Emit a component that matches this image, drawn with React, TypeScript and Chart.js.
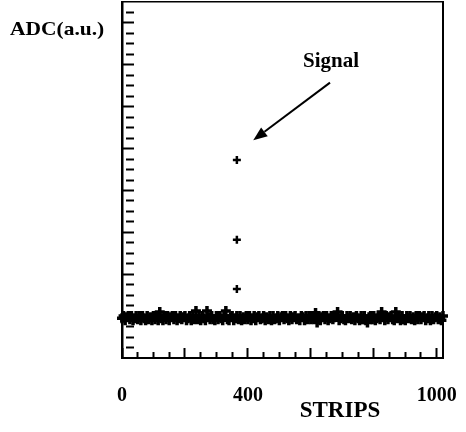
import { useEffect, useRef } from 'react';
import { Chart, registerables } from 'chart.js';

Chart.register(...registerables);

// ---- data ----
const X_MIN = 0;
const X_MAX = 1020;
const Y_MIN = 0;
const Y_MAX = 340;

const xLabelValues = [0, 400, 1000];
const xMinorStep = 50;
const xMajorStep = 200;
const yMinorStep = 10;
const yMajorStep = 40;

const baselineStripStep = 5;
// pedestal (noise) level per strip, strips 0, 5, 10, ... 1020
const baselineValues = [
  38, 40, 36, 39, 40, 37, 40, 36, 38, 40,
  37, 40, 36, 40, 38, 36, 40, 37, 39, 36,
  40, 37, 40, 36, 44, 38, 36, 40, 37, 40,
  36, 39, 40, 37, 40, 36, 38, 40, 37, 39,
  40, 36, 38, 40, 36, 40, 37, 45, 37, 40,
  36, 40, 38, 36, 45, 39, 37, 40, 37, 36,
  40, 37, 40, 38, 36, 40, 45, 37, 36, 39,
  40, 36, 38, 40, 37, 40, 36, 39, 37, 40,
  37, 40, 36, 38, 40, 36, 39, 40, 37, 38,
  40, 36, 39, 37, 40, 36, 40, 37, 38, 40,
  36, 39, 40, 37, 40, 38, 36, 40, 37, 39,
  40, 37, 38, 36, 40, 39, 36, 40, 37, 40,
  37, 40, 38, 43, 34, 40, 36, 39, 40, 37,
  40, 36, 38, 40, 37, 39, 40, 44, 36, 38,
  40, 37, 36, 40, 38, 40, 37, 39, 36, 40,
  38, 36, 40, 37, 40, 36, 34, 39, 40, 37,
  40, 36, 38, 40, 37, 44, 39, 36, 40, 37,
  39, 40, 37, 36, 44, 38, 40, 36, 40, 37,
  36, 40, 38, 40, 37, 39, 36, 40, 37, 40,
  37, 39, 40, 36, 38, 40, 36, 40, 37, 39,
  40, 37, 39, 36, 40,
];

const signalStrips = [365, 365, 365];
const signalValues = [189, 113, 66];

// annotation anchors (data coordinates)
const signalLabelPos = { x: 664, y: 278 };
const arrowFrom = { x: 661, y: 263 };
const arrowTo = { x: 417, y: 208 };

const FONT = '"Liberation Serif", "Times New Roman", serif';

const annotationPlugin = {
  id: 'annotations',
  afterDraw(chart: any) {
    const ctx = chart.ctx as CanvasRenderingContext2D;
    const xs = chart.scales.x;
    const ys = chart.scales.y;
    ctx.save();
    ctx.fillStyle = '#000';
    ctx.strokeStyle = '#000';

    // "Signal"
    ctx.font = `bold 21px ${FONT}`;
    ctx.textAlign = 'center';
    ctx.textBaseline = 'alphabetic';
    ctx.fillText('Signal', xs.getPixelForValue(signalLabelPos.x), ys.getPixelForValue(signalLabelPos.y));

    // arrow
    const x0 = xs.getPixelForValue(arrowFrom.x);
    const y0 = ys.getPixelForValue(arrowFrom.y);
    const x1 = xs.getPixelForValue(arrowTo.x);
    const y1 = ys.getPixelForValue(arrowTo.y);
    const ang = Math.atan2(y1 - y0, x1 - x0);
    const head = 14;
    const half = 5.5;
    const bx = x1 - head * Math.cos(ang);
    const by = y1 - head * Math.sin(ang);
    ctx.lineWidth = 2;
    ctx.beginPath();
    ctx.moveTo(x0, y0);
    ctx.lineTo(bx, by);
    ctx.stroke();
    ctx.beginPath();
    ctx.moveTo(x1, y1);
    ctx.lineTo(bx + half * Math.sin(ang), by - half * Math.cos(ang));
    ctx.lineTo(bx - half * Math.sin(ang), by + half * Math.cos(ang));
    ctx.closePath();
    ctx.fill();

    // y axis label (horizontal, top-left)
    ctx.textAlign = 'left';
    ctx.font = `bold 19px ${FONT}`;
    ctx.save();
    ctx.translate(10, 35);
    ctx.scale(1.13, 1);
    ctx.fillText('ADC(a.u.)', 0, 0);
    ctx.restore();

    // x axis label
    ctx.textAlign = 'center';
    ctx.font = `bold 23px ${FONT}`;
    ctx.fillText('STRIPS', 340, 417);
    ctx.restore();
  },
};

export default function App() {
  const canvasRef = useRef<HTMLCanvasElement | null>(null);

  useEffect(() => {
    const canvas = canvasRef.current;
    if (!canvas) return;

    const baseline = baselineValues.map((v, i) => ({ x: i * baselineStripStep, y: v }));
    const signal = signalStrips.map((s, i) => ({ x: s, y: signalValues[i] }));

    const xTicks: { value: number }[] = [];
    for (let v = X_MIN; v <= 1000; v += xMinorStep) xTicks.push({ value: v });
    const yTicks: { value: number }[] = [];
    for (let v = Y_MIN + yMinorStep; v < Y_MAX; v += yMinorStep) yTicks.push({ value: v });

    const common = {
      pointStyle: 'cross',
      borderColor: '#000',
      backgroundColor: '#000',
      showLine: false,
      clip: false as any,
    };

    const chart = new Chart(canvas, {
      type: 'scatter',
      data: {
        datasets: [
          { label: 'pedestal', data: baseline, ...common, pointRadius: 5, pointBorderWidth: 3.5 },
          { label: 'signal', data: signal, ...common, pointRadius: 4, pointBorderWidth: 2.5 },
        ],
      },
      options: {
        responsive: false,
        animation: false,
        layout: { autoPadding: false, padding: { left: 122, right: 23, top: 2, bottom: 0 } },
        plugins: {
          legend: { display: false },
          tooltip: { enabled: false },
          title: { display: false },
        },
        scales: {
          x: {
            type: 'linear',
            position: 'bottom',
            min: X_MIN,
            max: X_MAX,
            afterBuildTicks: (scale: any) => {
              scale.ticks = xTicks.map((t) => ({ ...t }));
            },
            afterFit: (scale: any) => {
              scale.height = 74;
              scale.paddingLeft = 0;
              scale.paddingRight = 0;
            },
            border: { display: true, color: '#000', width: 2 },
            grid: {
              display: true,
              drawOnChartArea: false,
              drawTicks: true,
              tickLength: -10,
              tickWidth: 2,
              tickColor: '#000',
              tickBorderDash: (c: any) =>
                c.tick && c.tick.value % xMajorStep === 0 ? [] : [7, 40],
            } as any,
            ticks: {
              autoSkip: false,
              maxRotation: 0,
              padding: 36,
              color: '#000',
              font: { family: FONT, size: 20, weight: 'bold' },
              callback: (v: any) => (xLabelValues.includes(Number(v)) ? String(v) : ''),
            },
          },
          x2: {
            type: 'linear',
            position: 'top',
            min: X_MIN,
            max: X_MAX,
            afterFit: (scale: any) => {
              scale.height = 0;
              scale.paddingLeft = 0;
              scale.paddingRight = 0;
            },
            border: { display: true, color: '#000', width: 1.5 },
            grid: { display: false, drawTicks: false },
            ticks: { display: false },
          },
          y: {
            type: 'linear',
            position: 'left',
            min: Y_MIN,
            max: Y_MAX,
            afterBuildTicks: (scale: any) => {
              scale.ticks = yTicks.map((t) => ({ ...t }));
            },
            afterFit: (scale: any) => {
              scale.width = 0;
              scale.paddingTop = 0;
              scale.paddingBottom = 0;
            },
            border: { display: true, color: '#000', width: 2.5 },
            grid: {
              display: true,
              drawOnChartArea: false,
              drawTicks: true,
              tickLength: -12,
              tickWidth: 2,
              tickColor: '#000',
              tickBorderDash: (c: any) =>
                c.tick && c.tick.value % yMajorStep === 0 ? [] : [8, 40],
            } as any,
            ticks: { display: false },
          },
          y2: {
            type: 'linear',
            position: 'right',
            min: Y_MIN,
            max: Y_MAX,
            afterFit: (scale: any) => {
              scale.width = 0;
              scale.paddingTop = 0;
              scale.paddingBottom = 0;
            },
            border: { display: true, color: '#000', width: 2 },
            grid: { display: false, drawTicks: false },
            ticks: { display: false },
          },
        },
      } as any,
      plugins: [annotationPlugin],
    });

    return () => {
      chart.destroy();
    };
  }, []);

  return (
    <div style={{ position: 'fixed', left: 0, top: 0, width: 466, height: 432, background: '#fff' }}>
      <canvas ref={canvasRef} width={466} height={432} style={{ display: 'block' }} />
    </div>
  );
}
